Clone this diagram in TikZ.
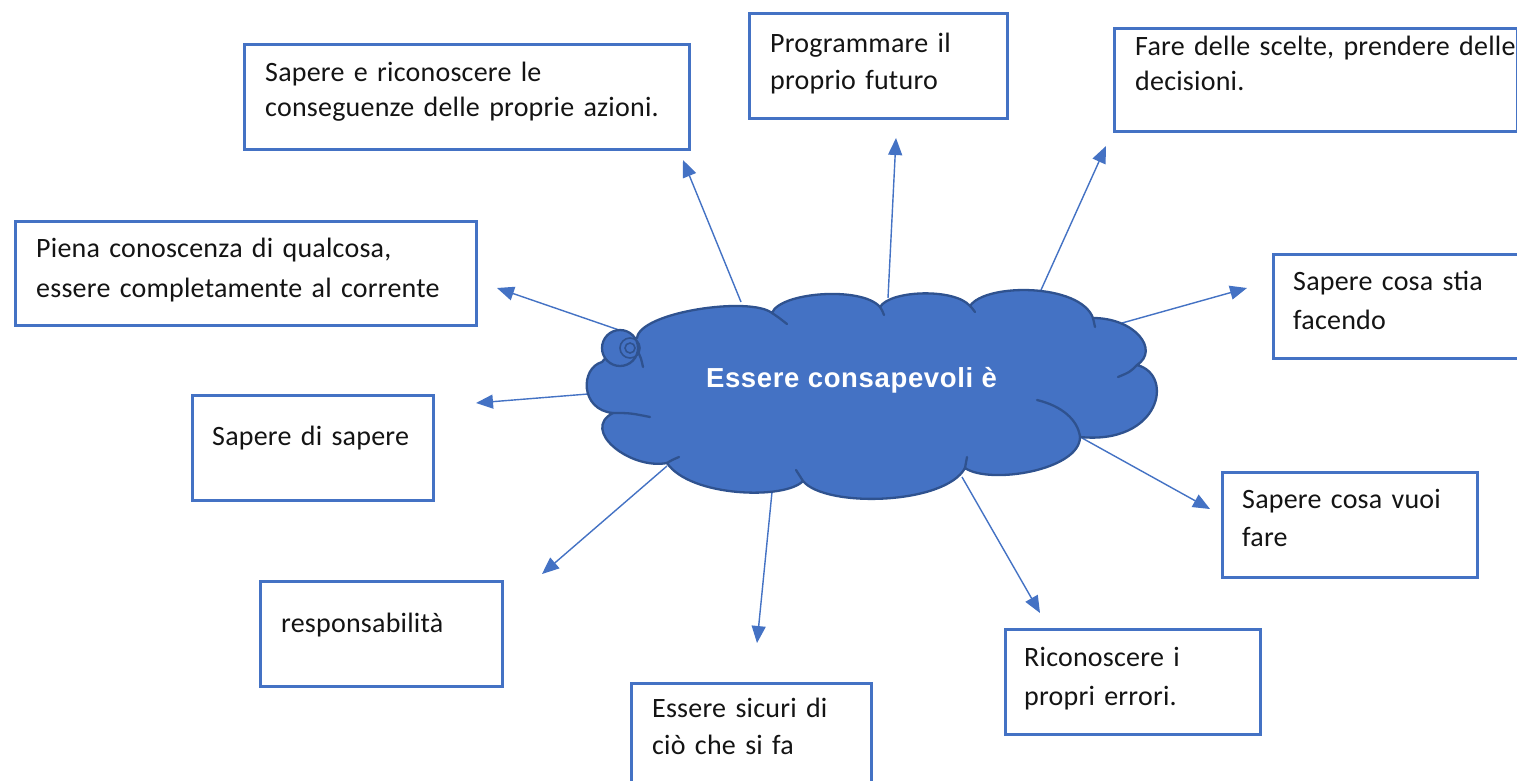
\documentclass[tikz,border=0pt]{standalone}
\usepackage{fontspec}
\setmainfont{Carlito}[LetterSpace=0.8]
\newfontfamily\cloudfont{Liberation Sans}[LetterSpace=2.4]
\usetikzlibrary{arrows.meta}
\definecolor{boxblue}{HTML}{4472C4}
\definecolor{cloudedge}{HTML}{2F528F}
\definecolor{txtc}{HTML}{141414}
\tikzset{
  box/.style={draw=boxblue, line width=2.5pt, rectangle, inner sep=0pt, anchor=north west},
  txt/.style={anchor=base west, inner sep=0pt, text width=470pt, align=left, text=txtc, font=\fontsize{28}{35}\selectfont},
  arr/.style={draw=boxblue, line width=1.4pt, -{Triangle[length=17pt,width=14pt]}},
  cloudbody/.style={fill=boxblue, draw=cloudedge, line width=2.3pt, line join=round},
  fold/.style={draw=cloudedge, line width=2.3pt, line cap=round}
}
\begin{document}
\begin{tikzpicture}[x=1pt,y=-1pt]
\useasboundingbox (0,0) rectangle (1517,780);
\clip (0,0) rectangle (1517,780);
\fill[white] (0,0) rectangle (1517,780);

% boxes
\node[box, minimum width=445pt, minimum height=105pt] (b1) at (243,43) {};
\node[box, minimum width=258pt, minimum height=105pt] (b2) at (748,12) {};
\node[box, minimum width=403pt, minimum height=103pt] (b3) at (1113,27) {};
\node[box, minimum width=461pt, minimum height=104pt] (b4) at (14,220) {};
\node[box, minimum width=258pt, minimum height=104pt] (b5) at (1272,253) {};
\node[box, minimum width=241pt, minimum height=105pt] (b6) at (191,394) {};
\node[box, minimum width=255pt, minimum height=105pt] (b7) at (1221,471) {};
\node[box, minimum width=242pt, minimum height=105pt] (b8) at (259,580) {};
\node[box, minimum width=255pt, minimum height=105pt] (b9) at (1004,628) {};
\node[box, minimum width=240pt, minimum height=130pt] (b10) at (630,682) {};

% texts
\node[txt] (t1) at (265,81) {Sapere e riconoscere le\\conseguenze delle proprie azioni.};
\node[txt, font=\fontsize{28}{37}\selectfont] (t2) at (770,52) {Programmare il\\proprio futuro};
\node[txt] (t3) at (1135,55) {Fare delle scelte, prendere delle\\decisioni.};
\node[txt, font=\fontsize{28}{40}\selectfont] (t4) at (36,257) {Piena conoscenza di qualcosa,\\essere completamente al corrente};
\node[txt, font=\fontsize{28}{39}\selectfont] (t5) at (1293,290) {Sapere cosa stia\\facendo};
\node[txt] (t6) at (212,445) {Sapere di sapere};
\node[txt, font=\fontsize{28}{38}\selectfont] (t7) at (1242,508) {Sapere cosa vuoi\\fare};
\node[txt] (t8) at (281,632) {responsabilità};
\node[txt, font=\fontsize{28}{39}\selectfont] (t9) at (1024,666) {Riconoscere i\\propri errori.};
\node[txt, font=\fontsize{28}{37}\selectfont] (t10) at (652,717) {Essere sicuri di\\ciò che si fa};

% arrow end points
\coordinate (s1) at (741,302);  \coordinate (e1) at (683,160);
\coordinate (s2) at (888,298);  \coordinate (e2) at (896,138);
\coordinate (s3) at (1041,290); \coordinate (e3) at (1106,146);
\coordinate (s4) at (619,330);  \coordinate (e4) at (497,288);
\coordinate (s5) at (1122,323); \coordinate (e5) at (1247,288);
\coordinate (s6) at (588,394);  \coordinate (e6) at (476,403);
\coordinate (s7) at (1082,438); \coordinate (e7) at (1210,509);
\coordinate (s8) at (667,466);  \coordinate (e8) at (542,574);
\coordinate (s9) at (962,477);  \coordinate (e9) at (1040,613);
\coordinate (s10) at (772,492); \coordinate (e10) at (757,643);

\foreach \i in {1,...,10} {\draw[arr] (s\i) -- (e\i);}

% cloud
\path[cloudbody] (637,338)
  .. controls (640,312) and (750,296) .. (772,313)
  .. controls (780,292) and (862,286) .. (880,307)
  .. controls (890,290) and (955,288) .. (970,306)
  .. controls (985,283) and (1080,283) .. (1093,318)
  .. controls (1135,318) and (1160,350) .. (1137,365)
  .. controls (1175,375) and (1160,445) .. (1080,437)
  .. controls (1080,470) and (990,485) .. (965,468)
  .. controls (945,505) and (825,508) .. (803,481)
  .. controls (785,500) and (690,497) .. (667,463)
  .. controls (630,470) and (580,430) .. (613,413)
  .. controls (580,410) and (580,368) .. (602,362)
  .. controls (612,350) and (625,340) .. (637,338) -- cycle;
% folds
\draw[fold] (772,313) .. controls (778,317) .. (787,324);
\draw[fold] (880,307) .. controls (882,310) .. (884,315);
\draw[fold] (970,306) .. controls (972,308) .. (975,312);
\draw[fold] (1093,318) .. controls (1094,322) .. (1095,327);
\draw[fold] (1137,365) .. controls (1130,372) .. (1118,377);
\draw[fold] (1037,400) .. controls (1062,406) and (1078,420) .. (1080,437);
\draw[fold] (965,468) .. controls (966,463) .. (967,457);
\draw[fold] (803,481) .. controls (800,476) .. (796,470);
\draw[fold] (667,463) .. controls (672,460) .. (679,457);
\draw[fold] (613,413) .. controls (630,413) .. (650,417);
% small circle with spiral
\path[cloudbody] (620,348) circle[radius=18];
\draw[fold, line width=1.6pt] (630,348) circle[radius=10];
\draw[fold, line width=1.6pt] (630,348) circle[radius=5];
\draw[fold] (638,352) .. controls (641,358) .. (643,367);

\node[anchor=base, text=white, inner sep=0pt, font=\cloudfont\fontsize{27.5}{30}\selectfont\bfseries] (ctext) at (851.5,387) {Essere consapevoli è};
\end{tikzpicture}
\end{document}
